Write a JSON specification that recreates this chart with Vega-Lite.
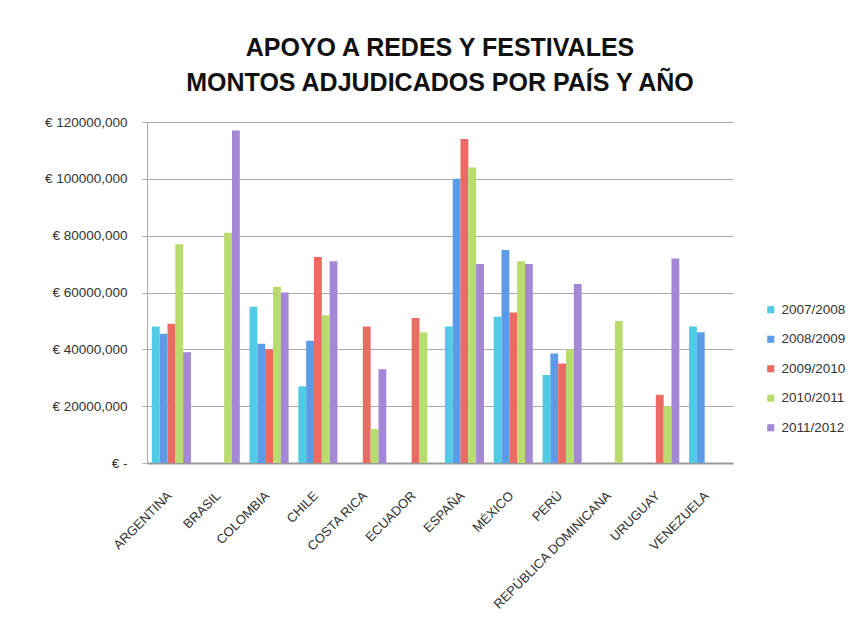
{
  "$schema": "https://vega.github.io/schema/vega-lite/v6.json",
  "autosize": {"type": "none"},
  "padding": {"left": 147, "top": 122, "right": 125, "bottom": 168},
  "width": 586,
  "height": 341,
  "background": "white",
  "title": {
    "text": ["APOYO A REDES Y FESTIVALES", "MONTOS ADJUDICADOS POR PAÍS Y AÑO"],
    "font": "Liberation Sans",
    "fontSize": 25,
    "fontWeight": "bold",
    "color": "#111111",
    "anchor": "middle",
    "lineHeight": 35,
    "offset": 19
  },
  "data": {
    "values": [
      {"pais": "ARGENTINA", "anio": "2007/2008", "monto": 48000000},
      {"pais": "ARGENTINA", "anio": "2008/2009", "monto": 45500000},
      {"pais": "ARGENTINA", "anio": "2009/2010", "monto": 49000000},
      {"pais": "ARGENTINA", "anio": "2010/2011", "monto": 77000000},
      {"pais": "ARGENTINA", "anio": "2011/2012", "monto": 39000000},
      {"pais": "BRASIL", "anio": "2007/2008", "monto": 0},
      {"pais": "BRASIL", "anio": "2008/2009", "monto": 0},
      {"pais": "BRASIL", "anio": "2009/2010", "monto": 0},
      {"pais": "BRASIL", "anio": "2010/2011", "monto": 81000000},
      {"pais": "BRASIL", "anio": "2011/2012", "monto": 117000000},
      {"pais": "COLOMBIA", "anio": "2007/2008", "monto": 55000000},
      {"pais": "COLOMBIA", "anio": "2008/2009", "monto": 42000000},
      {"pais": "COLOMBIA", "anio": "2009/2010", "monto": 40000000},
      {"pais": "COLOMBIA", "anio": "2010/2011", "monto": 62000000},
      {"pais": "COLOMBIA", "anio": "2011/2012", "monto": 60000000},
      {"pais": "CHILE", "anio": "2007/2008", "monto": 27000000},
      {"pais": "CHILE", "anio": "2008/2009", "monto": 43000000},
      {"pais": "CHILE", "anio": "2009/2010", "monto": 72500000},
      {"pais": "CHILE", "anio": "2010/2011", "monto": 52000000},
      {"pais": "CHILE", "anio": "2011/2012", "monto": 71000000},
      {"pais": "COSTA RICA", "anio": "2007/2008", "monto": 0},
      {"pais": "COSTA RICA", "anio": "2008/2009", "monto": 0},
      {"pais": "COSTA RICA", "anio": "2009/2010", "monto": 48000000},
      {"pais": "COSTA RICA", "anio": "2010/2011", "monto": 12000000},
      {"pais": "COSTA RICA", "anio": "2011/2012", "monto": 33000000},
      {"pais": "ECUADOR", "anio": "2007/2008", "monto": 0},
      {"pais": "ECUADOR", "anio": "2008/2009", "monto": 0},
      {"pais": "ECUADOR", "anio": "2009/2010", "monto": 51000000},
      {"pais": "ECUADOR", "anio": "2010/2011", "monto": 46000000},
      {"pais": "ECUADOR", "anio": "2011/2012", "monto": 0},
      {"pais": "ESPAÑA", "anio": "2007/2008", "monto": 48000000},
      {"pais": "ESPAÑA", "anio": "2008/2009", "monto": 100000000},
      {"pais": "ESPAÑA", "anio": "2009/2010", "monto": 114000000},
      {"pais": "ESPAÑA", "anio": "2010/2011", "monto": 104000000},
      {"pais": "ESPAÑA", "anio": "2011/2012", "monto": 70000000},
      {"pais": "MÉXICO", "anio": "2007/2008", "monto": 51500000},
      {"pais": "MÉXICO", "anio": "2008/2009", "monto": 75000000},
      {"pais": "MÉXICO", "anio": "2009/2010", "monto": 53000000},
      {"pais": "MÉXICO", "anio": "2010/2011", "monto": 71000000},
      {"pais": "MÉXICO", "anio": "2011/2012", "monto": 70000000},
      {"pais": "PERÚ", "anio": "2007/2008", "monto": 31000000},
      {"pais": "PERÚ", "anio": "2008/2009", "monto": 38500000},
      {"pais": "PERÚ", "anio": "2009/2010", "monto": 35000000},
      {"pais": "PERÚ", "anio": "2010/2011", "monto": 40000000},
      {"pais": "PERÚ", "anio": "2011/2012", "monto": 63000000},
      {"pais": "REPÚBLICA DOMINICANA", "anio": "2007/2008", "monto": 0},
      {"pais": "REPÚBLICA DOMINICANA", "anio": "2008/2009", "monto": 0},
      {"pais": "REPÚBLICA DOMINICANA", "anio": "2009/2010", "monto": 0},
      {"pais": "REPÚBLICA DOMINICANA", "anio": "2010/2011", "monto": 50000000},
      {"pais": "REPÚBLICA DOMINICANA", "anio": "2011/2012", "monto": 0},
      {"pais": "URUGUAY", "anio": "2007/2008", "monto": 0},
      {"pais": "URUGUAY", "anio": "2008/2009", "monto": 0},
      {"pais": "URUGUAY", "anio": "2009/2010", "monto": 24000000},
      {"pais": "URUGUAY", "anio": "2010/2011", "monto": 20000000},
      {"pais": "URUGUAY", "anio": "2011/2012", "monto": 72000000},
      {"pais": "VENEZUELA", "anio": "2007/2008", "monto": 48000000},
      {"pais": "VENEZUELA", "anio": "2008/2009", "monto": 46000000},
      {"pais": "VENEZUELA", "anio": "2009/2010", "monto": 0},
      {"pais": "VENEZUELA", "anio": "2010/2011", "monto": 0},
      {"pais": "VENEZUELA", "anio": "2011/2012", "monto": 0}
    ]
  },
  "mark": {"type": "bar", "stroke": null},
  "encoding": {
    "x": {
      "field": "pais",
      "type": "nominal",
      "sort": ["ARGENTINA", "BRASIL", "COLOMBIA", "CHILE", "COSTA RICA", "ECUADOR", "ESPAÑA", "MÉXICO", "PERÚ", "REPÚBLICA DOMINICANA", "URUGUAY", "VENEZUELA"],
      "scale": {"paddingInner": 0.2, "paddingOuter": 0.1},
      "axis": {
        "title": null,
        "labelAngle": -45,
        "labelFont": "Liberation Sans",
        "labelFontSize": 13,
        "labelColor": "#333333",
        "labelPadding": 26,
        "labelOffset": -6,
        "ticks": false,
        "domainColor": "#999999",
        "domainWidth": 2
      }
    },
    "xOffset": {
      "field": "anio",
      "type": "nominal",
      "sort": ["2007/2008", "2008/2009", "2009/2010", "2010/2011", "2011/2012"]
    },
    "y": {
      "field": "monto",
      "type": "quantitative",
      "scale": {"domain": [0, 120000000], "nice": false},
      "axis": {
        "title": null,
        "values": [0, 20000000, 40000000, 60000000, 80000000, 100000000, 120000000],
        "labelExpr": "datum.value == 0 ? '€ -' : '€ ' + (datum.value / 1000) + ',000'",
        "labelFont": "Liberation Sans",
        "labelFontSize": 13.5,
        "labelColor": "#333333",
        "labelPadding": 15,
        "tickSize": 5,
        "tickColor": "#aaaaaa",
        "domainColor": "#aaaaaa",
        "gridColor": "#aaaaaa",
        "gridWidth": 1.2
      }
    },
    "color": {
      "field": "anio",
      "type": "nominal",
      "sort": ["2007/2008", "2008/2009", "2009/2010", "2010/2011", "2011/2012"],
      "scale": {
        "domain": ["2007/2008", "2008/2009", "2009/2010", "2010/2011", "2011/2012"],
        "range": ["#4fcbe6", "#5c9ce6", "#ec6a64", "#b8dc6e", "#a488d6"]
      },
      "legend": {
        "title": null,
        "orient": "none",
        "legendX": 617,
        "legendY": 181,
        "symbolType": "square",
        "symbolSize": 50,
        "symbolStrokeWidth": 0,
        "labelFont": "Liberation Sans",
        "labelFontSize": 13.5,
        "labelColor": "#333333",
        "rowPadding": 14.5,
        "labelOffset": 4
      }
    }
  },
  "config": {
    "view": {"stroke": null}
  }
}
